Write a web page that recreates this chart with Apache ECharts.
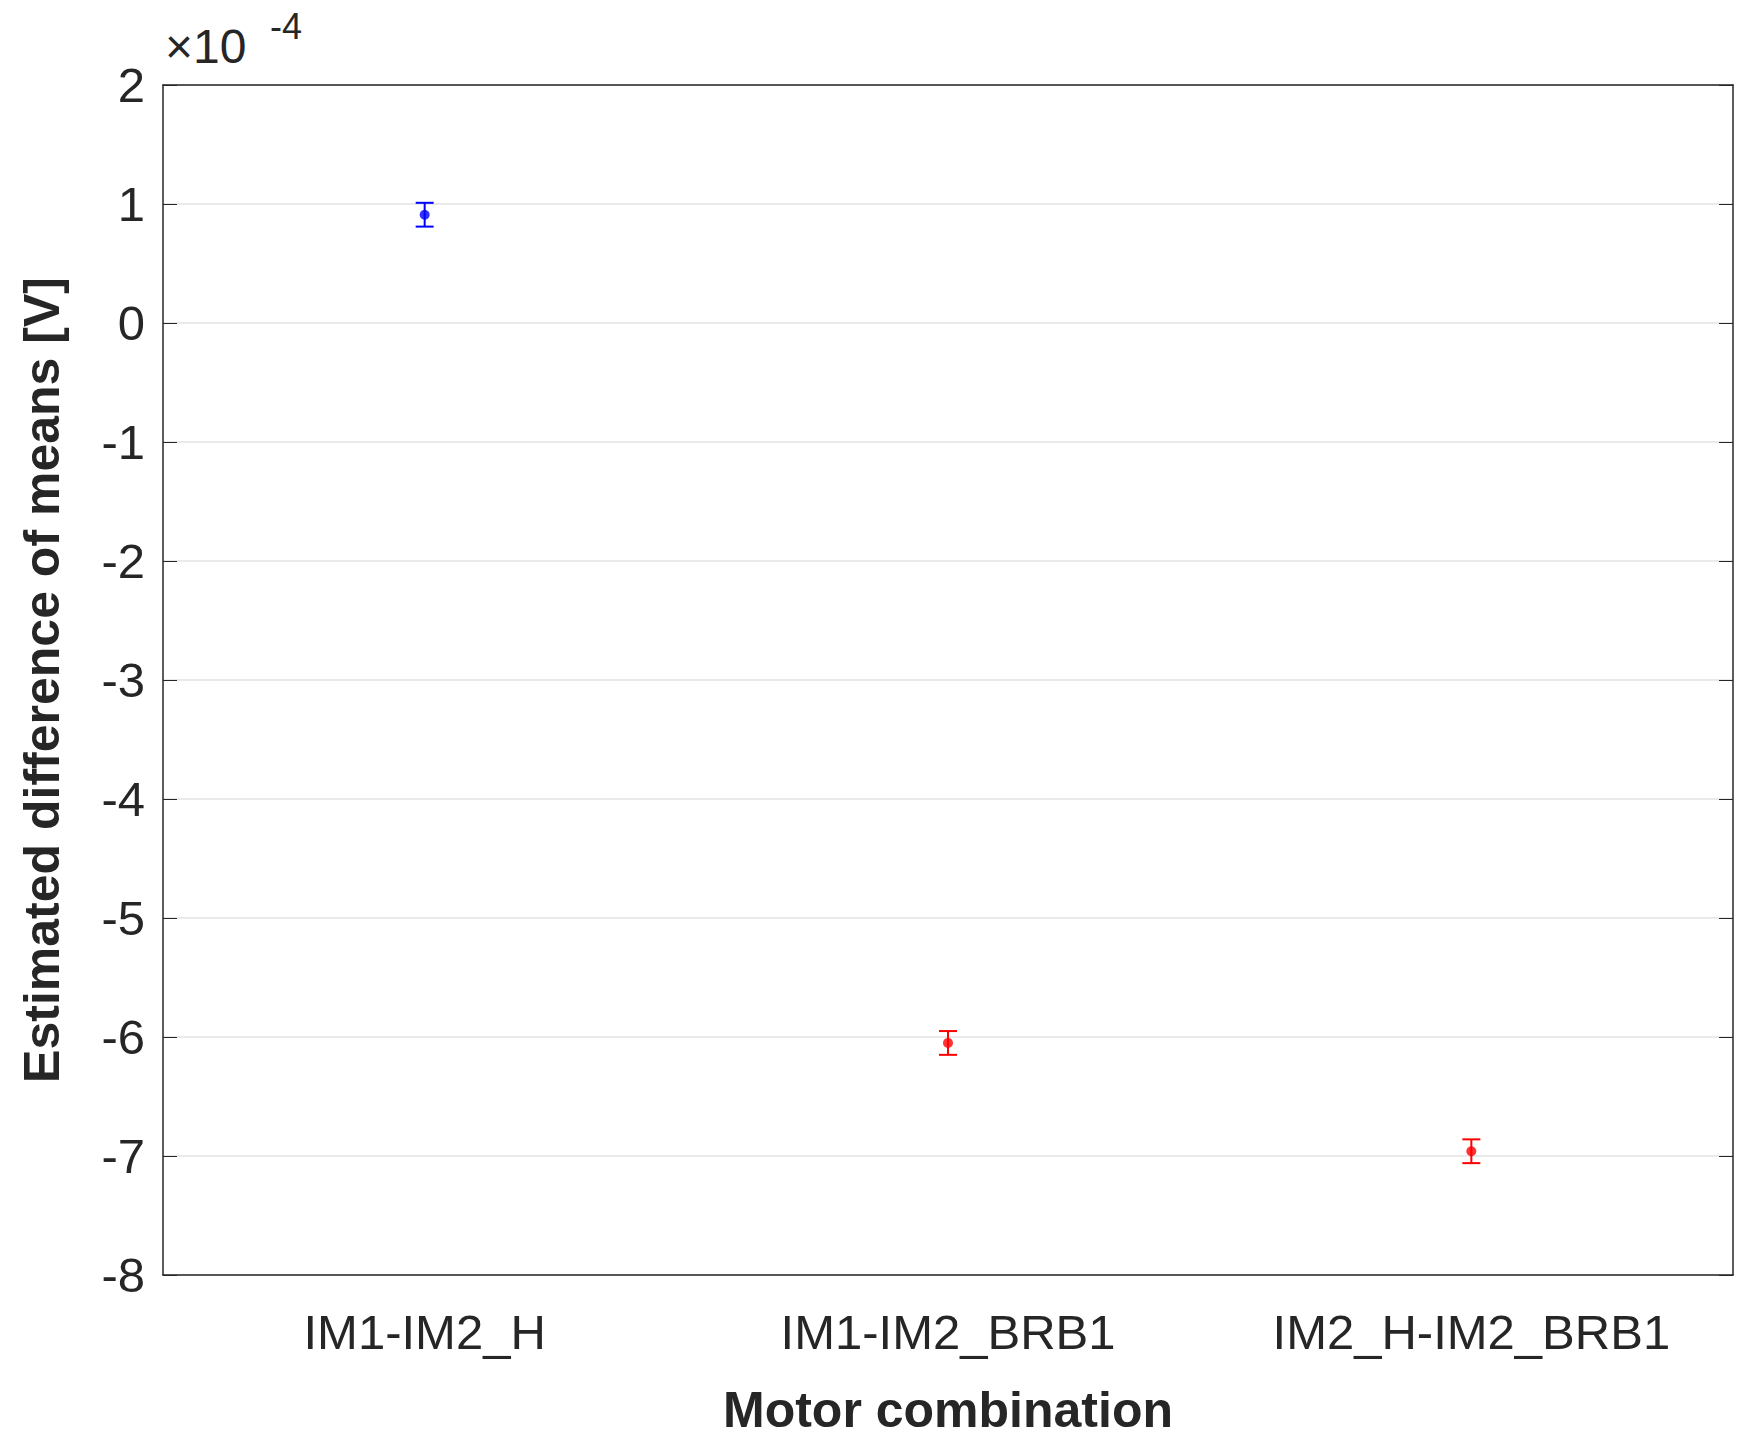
<!DOCTYPE html>
<html><head><meta charset="utf-8">
<script src="https://cdn.jsdelivr.net/npm/echarts@6/dist/echarts.min.js"></script>
<style>html,body{margin:0;background:#fff}#c{width:1755px;height:1447px}</style>
</head><body><div id="c"></div>
<script>
// values in units of 1e-4 V
var categories = ['IM1-IM2_H', 'IM1-IM2_BRB1', 'IM2_H-IM2_BRB1'];
var means = [0.91, -6.05, -6.96];
var lower = [0.81, -6.15, -7.06];
var upper = [1.01, -5.95, -6.86];
var colors = ['#0000ff', '#ff0000', '#ff0000'];

var chart = echarts.init(document.getElementById('c'), null, { renderer: 'svg' });
var font = 'Arial, "Liberation Sans", sans-serif';
chart.setOption({
  animation: false,
  grid: { left: 163, right: 22, top: 85, bottom: 172 },
  xAxis: [{
    type: 'category', data: categories, boundaryGap: true,
    name: 'Motor combination', nameLocation: 'middle', nameGap: 110,
    nameTextStyle: { fontFamily: font, fontWeight: 'bold', fontSize: 50, color: '#262626' },
    axisLine: { onZero: false, lineStyle: { color: '#262626', width: 1.5 } },
    axisTick: { alignWithLabel: true, inside: true, length: 14, lineStyle: { color: '#262626' } },
    axisLabel: { fontFamily: font, fontSize: 49, color: '#262626', margin: 32 }
  }, {
    type: 'category', data: categories, position: 'top', boundaryGap: true,
    axisLine: { onZero: false, lineStyle: { color: '#262626', width: 1.5 } },
    axisTick: { alignWithLabel: true, inside: true, length: 14, lineStyle: { color: '#262626' } },
    axisLabel: { show: false }
  }],
  yAxis: [{
    type: 'value', min: -8, max: 2, interval: 1,
    name: 'Estimated difference of means [V]', nameLocation: 'middle', nameGap: 96,
    nameTextStyle: { fontFamily: font, fontWeight: 'bold', fontSize: 50, color: '#262626' },
    axisLine: { show: true, onZero: false, lineStyle: { color: '#262626', width: 1.5 } },
    axisTick: { show: true, inside: true, length: 14, lineStyle: { color: '#262626' } },
    axisLabel: { fontFamily: font, fontSize: 49, color: '#262626', margin: 18 },
    splitLine: { show: true, lineStyle: { color: '#e3e3e3', width: 1.5 } }
  }, {
    type: 'value', min: -8, max: 2, interval: 1, position: 'right',
    axisLine: { show: true, onZero: false, lineStyle: { color: '#262626', width: 1.5 } },
    axisTick: { show: true, inside: true, length: 14, lineStyle: { color: '#262626' } },
    axisLabel: { show: false }, splitLine: { show: false }
  }],
  graphic: [{
    type: 'text', left: 165, top: 22,
    style: { text: '\u00d710', font: '48px ' + font, fill: '#262626' }
  }, {
    type: 'text', left: 270, top: 8,
    style: { text: '-4', font: '36px ' + font, fill: '#262626' }
  }],
  series: [{
    type: 'custom',
    data: categories.map(function (c, i) { return [i, lower[i], upper[i]]; }),
    renderItem: function (params, api) {
      var lo = api.coord([api.value(0), api.value(1)]);
      var hi = api.coord([api.value(0), api.value(2)]);
      var w = 9;
      var col = colors[params.dataIndex];
      var st = { stroke: col, lineWidth: 2 };
      return { type: 'group', children: [
        { type: 'line', shape: { x1: lo[0], y1: lo[1], x2: hi[0], y2: hi[1] }, style: st },
        { type: 'line', shape: { x1: lo[0] - w, y1: lo[1], x2: lo[0] + w, y2: lo[1] }, style: st },
        { type: 'line', shape: { x1: hi[0] - w, y1: hi[1], x2: hi[0] + w, y2: hi[1] }, style: st }
      ] };
    },
    z: 3
  }, {
    type: 'scatter', symbolSize: 10,
    data: means.map(function (v, i) { return { value: [i, v], itemStyle: { color: colors[i] } }; }),
    z: 4
  }]
});
</script></body></html>
